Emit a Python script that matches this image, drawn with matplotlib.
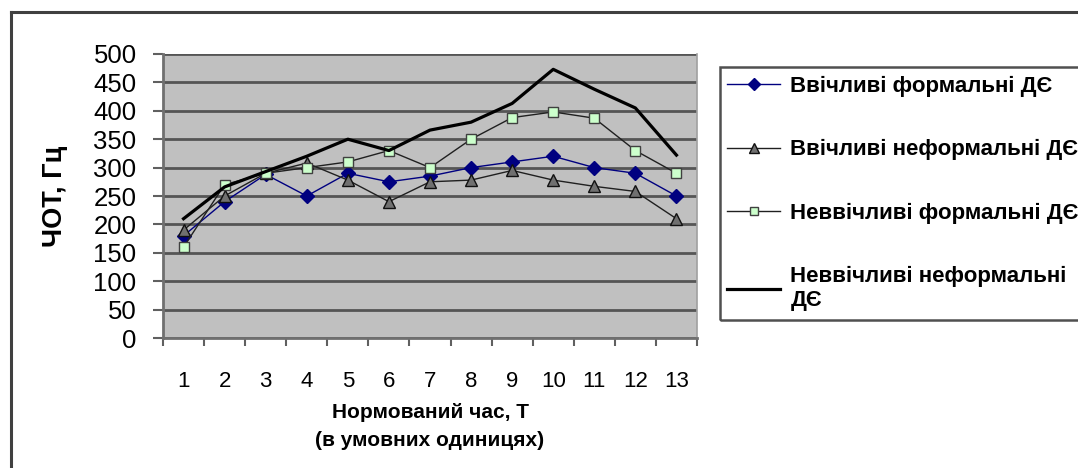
import matplotlib
matplotlib.use("Agg")
import matplotlib.pyplot as plt
from matplotlib.lines import Line2D
from matplotlib.patches import Rectangle
import numpy as np

plt.rcParams['font.family'] = ['Liberation Sans', 'DejaVu Sans']

categories = ['1', '2', '3', '4', '5', '6', '7', '8', '9', '10', '11', '12', '13']
polite_formal = [180, 240, 288, 250, 290, 275, 285, 300, 310, 320, 300, 290, 250]
polite_informal = [190, 250, 290, 308, 278, 240, 275, 278, 295, 278, 267, 258, 210]
impolite_formal = [160, 270, 290, 300, 310, 330, 300, 350, 388, 398, 387, 330, 290]
impolite_informal = [210, 266, 293, 320, 350, 330, 366, 380, 413, 473, 438, 405, 322]
series_labels = ['Ввічливі формальні ДЄ', 'Ввічливі неформальні ДЄ',
                 'Неввічливі формальні ДЄ', 'Неввічливі неформальні\nДЄ']
y_ticks = [0, 50, 100, 150, 200, 250, 300, 350, 400, 450, 500]

W, H = 1078, 468
fig = plt.figure(figsize=(W / 100, H / 100), dpi=100)
ax = fig.add_axes([163 / W, 1 - 338 / H, (697 - 163) / W, (338 - 54) / H])
ax.set_facecolor('#c0c0c0')

x = np.arange(len(categories))
l1, = ax.plot(x, polite_formal, color='#000080', lw=1.0, marker='D', ms=7.5,
              mfc='#000080', mec='#000080', zorder=3)
l2, = ax.plot(x, polite_informal, color='#202020', lw=1.0, marker='^', ms=9,
              mfc='#707070', mec='#101010', mew=1.0, zorder=3)
l3, = ax.plot(x, impolite_formal, color='#202020', lw=1.0, marker='s', ms=7.5,
              mfc='#ccffcc', mec='#404040', mew=1.0, zorder=3)
l4, = ax.plot(x, impolite_informal, color='black', lw=2.3, zorder=4)

ax.set_xlim(-0.5, len(categories) - 0.5)
ax.set_ylim(0, 500)
ax.set_yticks(y_ticks)
ax.set_yticklabels([str(v) for v in y_ticks], fontsize=18.5)
ax.yaxis.grid(True, color='#555555', lw=2.0)
ax.set_axisbelow(True)
ax.tick_params(axis='y', direction='out', length=7, width=1.5, color='#606060', pad=12)

ax.set_xticks(np.arange(-0.5, len(categories), 1.0))
ax.set_xticklabels([])
ax.tick_params(axis='x', which='major', direction='out', length=6, width=1.5, color='#606060')
ax.set_xticks(x, minor=True)
ax.set_xticklabels(categories, minor=True, fontsize=16)
ax.tick_params(axis='x', which='minor', length=0, pad=24)

for s in ['left', 'bottom']:
    ax.spines[s].set_color('#707070')
    ax.spines[s].set_linewidth(2.0)
ax.spines['right'].set_color('#a0a0a0')
ax.spines['right'].set_linewidth(1.2)
ax.spines['top'].set_visible(False)

ax.set_ylabel('ЧОТ, Гц', fontsize=19.5, fontweight='bold', labelpad=18)
ax.set_xlabel('Нормований час, Т\n(в умовних одиницях)', fontsize=15,
              fontweight='bold', linespacing=1.55, labelpad=8)

# outer chart frame (cropped)
fig.add_artist(Line2D([11 / W, 1.0], [1 - 12 / H, 1 - 12 / H], color='#404040', lw=2.2))
fig.add_artist(Line2D([11 / W, 11 / W], [0, 1 - 12 / H], color='#404040', lw=2.2))

# legend box
fig.add_artist(Rectangle((720 / W, 1 - 320 / H), 400 / W, (320 - 67) / H,
                         fill=False, edgecolor='#505050', lw=1.8,
                         transform=fig.transFigure, clip_on=False))
leg = fig.legend([l1, l2, l3, l4], series_labels, loc='upper left',
                 bbox_to_anchor=(727 / W, 1 - 76 / H), frameon=False,
                 prop={'size': 16, 'weight': 'bold'}, handlelength=2.4,
                 handletextpad=0.45, labelspacing=1.9, borderaxespad=0,
                 borderpad=0, markerscale=0.75)

fig.savefig('out.png', dpi=100)
